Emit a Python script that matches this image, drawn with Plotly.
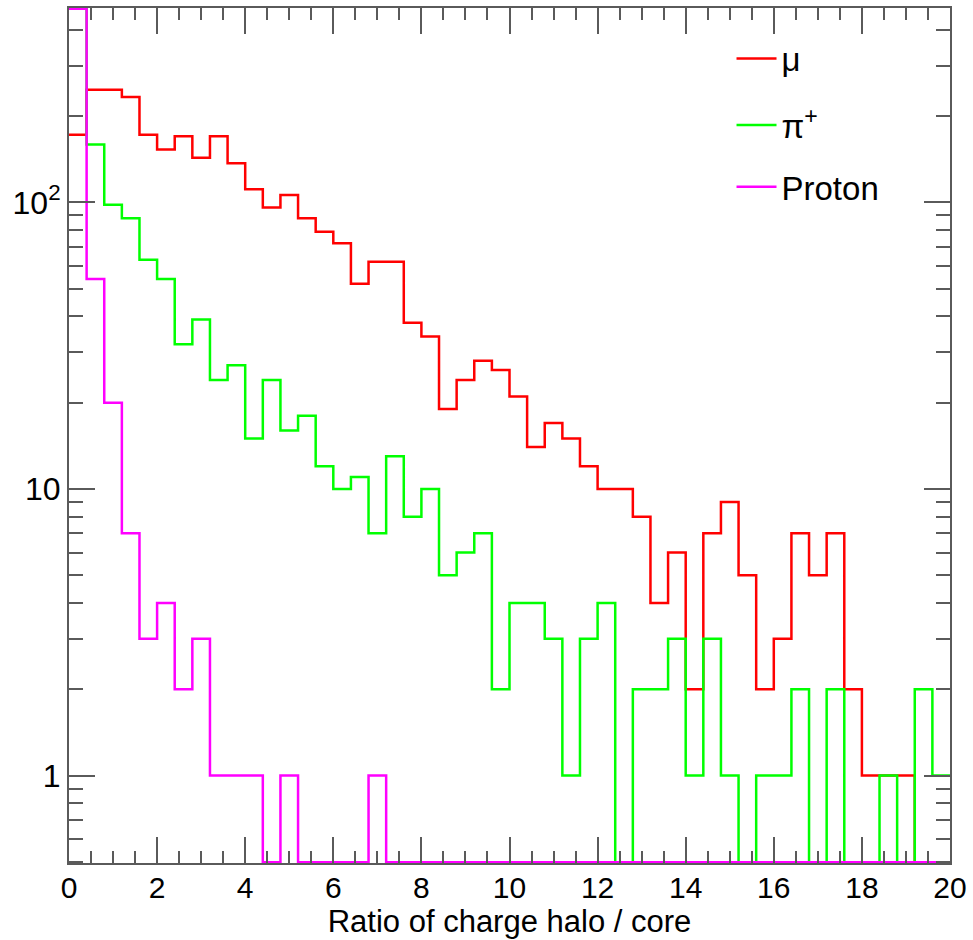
import numpy as np
import plotly.graph_objects as go

# ---- data (counts per bin, bin width 0.4 from 0 to 20) ----
bin_edges = [round(0.4 * i, 1) for i in range(51)]

mu_counts = [172, 247, 247, 233, 172, 153, 170, 143, 170, 137,
             111, 96, 106, 88, 79, 72, 52, 62, 62, 38,
             34, 19, 24, 28, 26, 21, 14, 17, 15, 12,
             10, 10, 8, 4, 6, 2, 7, 9, 5, 2,
             3, 7, 5, 7, 2, 1, 1, 1, 0, 0]

pi_counts = [600, 159, 98, 88, 63, 54, 32, 39, 24, 27,
             15, 24, 16, 18, 12, 10, 11, 7, 13, 8,
             10, 5, 6, 7, 2, 4, 4, 3, 1, 3,
             4, 0, 2, 2, 3, 1, 3, 1, 0, 1,
             1, 2, 0, 2, 0, 0, 1, 0, 2, 1]

proton_counts = [900, 54, 20, 7, 3, 4, 2, 3, 1, 1,
                 1, 0, 1, 0, 0, 0, 0, 1, 0, 0,
                 0, 0, 0, 0, 0, 0, 0, 0, 0, 0,
                 0, 0, 0, 0, 0, 0, 0, 0, 0, 0,
                 0, 0, 0, 0, 0, 0, 0, 0, 0, 0]

series_names = ["\u03bc", "\u03c0<sup>+</sup>", "Proton"]
series_colors = ["#ff0000", "#00ff00", "#ff00ff"]

x_ticks = list(range(0, 21, 2))
x_minor = [0.5 * i for i in range(41)]
y_ticks = [1, 10, 100]
y_ticktext = ["1", "10", "10<sup>2</sup>"]
y_minor = [0.5, 0.6, 0.7, 0.8, 0.9] + [d * m for d in (1, 10, 100) for m in range(2, 10)]
y_minor = [v for v in y_minor if v < 480]

Y_LOG_MIN, Y_LOG_MAX = -0.305, 2.678
y_lo = 10 ** Y_LOG_MIN * 1.006
y_hi = 10 ** Y_LOG_MAX * 0.994


def step_xy(counts):
    # ROOT-like histogram outline: clipped to frame, zero bins on the frame floor
    vals = [min(max(c, y_lo), y_hi) for c in counts]
    xs, ys = [], []
    for i, v in enumerate(vals):
        xs += [bin_edges[i], bin_edges[i + 1]]
        ys += [v, v]
    return xs, ys


fig = go.Figure()
legend_ids = ["legend", "legend2", "legend3"]
for name, counts, color, lg in zip(series_names,
                                   [mu_counts, pi_counts, proton_counts],
                                   series_colors, legend_ids):
    xs, ys = step_xy(counts)
    fig.add_trace(go.Scatter(x=xs, y=ys, mode="lines", name=name,
                             legend=lg,
                             line=dict(color=color, width=2.5),
                             hoverinfo="skip"))

axis_color = "#5a5a5a"
font_family = "Liberation Sans, Arial, Helvetica, sans-serif"

legend_common = dict(x=0.752, xanchor="left", yanchor="middle",
                     font=dict(size=33, family=font_family),
                     bgcolor="rgba(0,0,0,0)", itemwidth=40)

fig.update_layout(
    width=973, height=940,
    margin=dict(l=69, r=21, t=6, b=77),
    paper_bgcolor="white", plot_bgcolor="white",
    font=dict(family=font_family, color="black"),
    showlegend=True,
    legend=dict(y=0.941, **legend_common),
    legend2=dict(y=0.863, **legend_common),
    legend3=dict(y=0.791, **legend_common),
)

fig.update_xaxes(
    range=[0, 20], tickmode="array", tickvals=x_ticks,
    ticks="inside", ticklen=26, tickwidth=2, tickcolor=axis_color,
    showline=True, linewidth=2, linecolor=axis_color, mirror="ticks",
    showgrid=False, zeroline=False,
    tickfont=dict(size=30), ticklabelstandoff=-3,
    minor=dict(tickmode="array", tickvals=x_minor, ticks="inside",
               ticklen=12, tickwidth=2, tickcolor=axis_color, showgrid=False),
    title=dict(text="Ratio of charge halo / core", font=dict(size=31), standoff=6),
)

fig.update_yaxes(
    type="log", range=[Y_LOG_MIN, Y_LOG_MAX],
    tickmode="array", tickvals=y_ticks, ticktext=y_ticktext,
    ticks="inside", ticklen=26, tickwidth=2, tickcolor=axis_color,
    showline=True, linewidth=2, linecolor=axis_color, mirror="ticks",
    showgrid=False, zeroline=False,
    tickfont=dict(size=32),
    minor=dict(tickmode="array", tickvals=y_minor, ticks="inside",
               ticklen=14, tickwidth=2, tickcolor=axis_color, showgrid=False),
)

fig.write_html("out.html")
